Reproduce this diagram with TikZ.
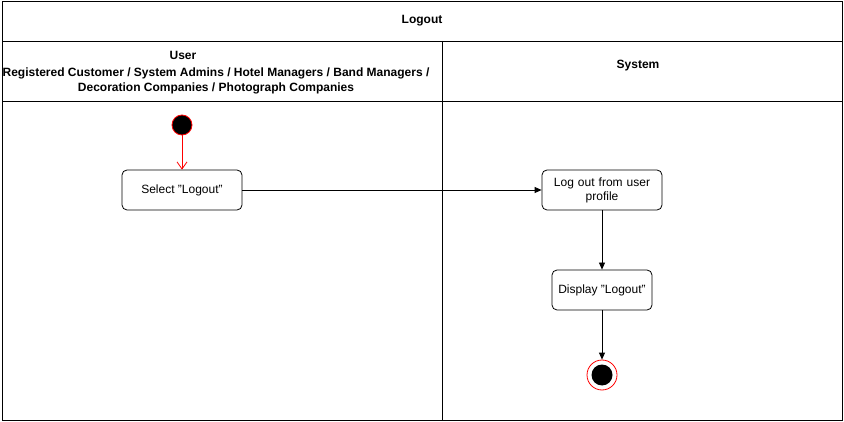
\documentclass[tikz,border=0pt]{standalone}
\usepackage{fontspec}
\setmainfont{Liberation Sans}
\usetikzlibrary{arrows.meta,positioning,calc}
\tikzset{
	action/.style={draw, rounded corners=5pt, minimum width=120pt, minimum height=40pt, align=center, inner sep=2pt, font=\fontsize{12}{14}\selectfont},
	flow/.style={-{Triangle[length=7pt,width=6pt]}},
	lanehead/.style={align=center, font=\fontsize{12}{15}\selectfont\bfseries}
}

\begin{document}
\begin{tikzpicture}[x=1pt, y=-1pt, line width=0.8pt]
	\useasboundingbox (0,0) rectangle (844,422);
	% pool and lanes
	\draw (2,1) rectangle (842,420);
	\draw (2,41) -- (842,41);
	\draw (2,101) -- (842,101);
	\draw (442,41) -- (442,420);
	\node[lanehead] (title) at (422,21) {Logout};
	\node[lanehead] (user) at (183,55) {User};
	\node[lanehead] (actors) at (216,81) {Registered Customer / System Admins / Hotel Managers / Band Managers /\\Decoration Companies / Photograph Companies};
	\node[lanehead] (system) at (638,66) {System};
	% nodes
	\node[circle, draw=red, fill=black, minimum size=20pt, inner sep=0pt] (start) at (182,125) {};
	\node[action] (select) at (182,190) {Select "Logout"};
	\node[action, text width=112pt] (logout) at (602,190) {Log out from user\\profile};
	\node[action, minimum width=100pt] (display) at (602,290) {Display "Logout"};
	\node[circle, draw=red, minimum size=30pt, inner sep=0pt] (end) at (602,375) {};
	\node[circle, fill=black, minimum size=21pt, inner sep=0pt] (endin) at (end) {};
	% flows
	\draw[red, -{Straight Barb[length=7pt,width=10pt]}] (start) -- (select);
	\path[flow] (select) edge (logout)
		(logout) edge (display)
		(display) edge (end);
\end{tikzpicture}
\end{document}
